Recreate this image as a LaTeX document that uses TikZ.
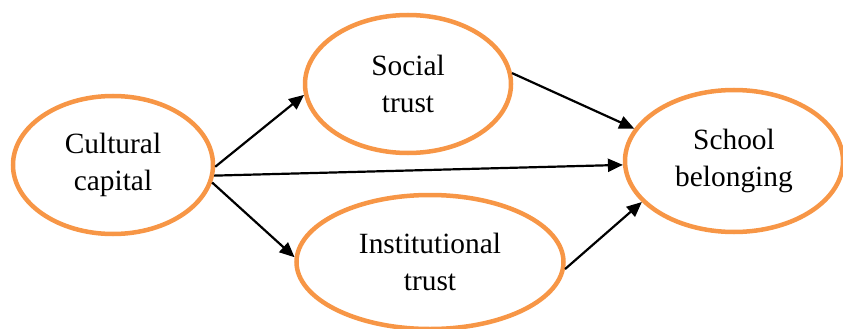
\documentclass[tikz,border=0pt]{standalone}
\usepackage{fontspec}
\setmainfont{Liberation Serif}
\usetikzlibrary{shapes.geometric,arrows.meta}
\definecolor{ovalorange}{HTML}{F79646}
\begin{document}
\begin{tikzpicture}[x=1bp,y=1bp,
  oval/.style={ellipse,draw=ovalorange,line width=4.5bp,inner sep=0pt,align=center,
    font=\fontsize{29.5}{37}\selectfont},
  arr/.style={line width=2.2bp,-{Triangle[length=15bp,width=13bp]}}]
\useasboundingbox (0,0) rectangle (843,328);
\node[oval,minimum width=200bp,minimum height=138bp] (cc) at (113,163) {Cultural\\capital};
\node[oval,minimum width=206bp,minimum height=138bp] (st) at (408,244) {Social\\trust};
\node[oval,minimum width=267bp,minimum height=134bp] (it) at (430,66) {Institutional\\trust};
\node[oval,minimum width=218bp,minimum height=142bp] (sb) at (734,167) {School\\belonging};
\draw[arr] (cc.-1) -- (st.186);
\draw[arr] (cc.-6) -- (sb.182);
\draw[arr] (cc.-10) -- (it.178);
\draw[arr] (st.6) -- (sb.162);
\draw[arr] (it.-3) -- (sb.204);
\end{tikzpicture}
\end{document}
